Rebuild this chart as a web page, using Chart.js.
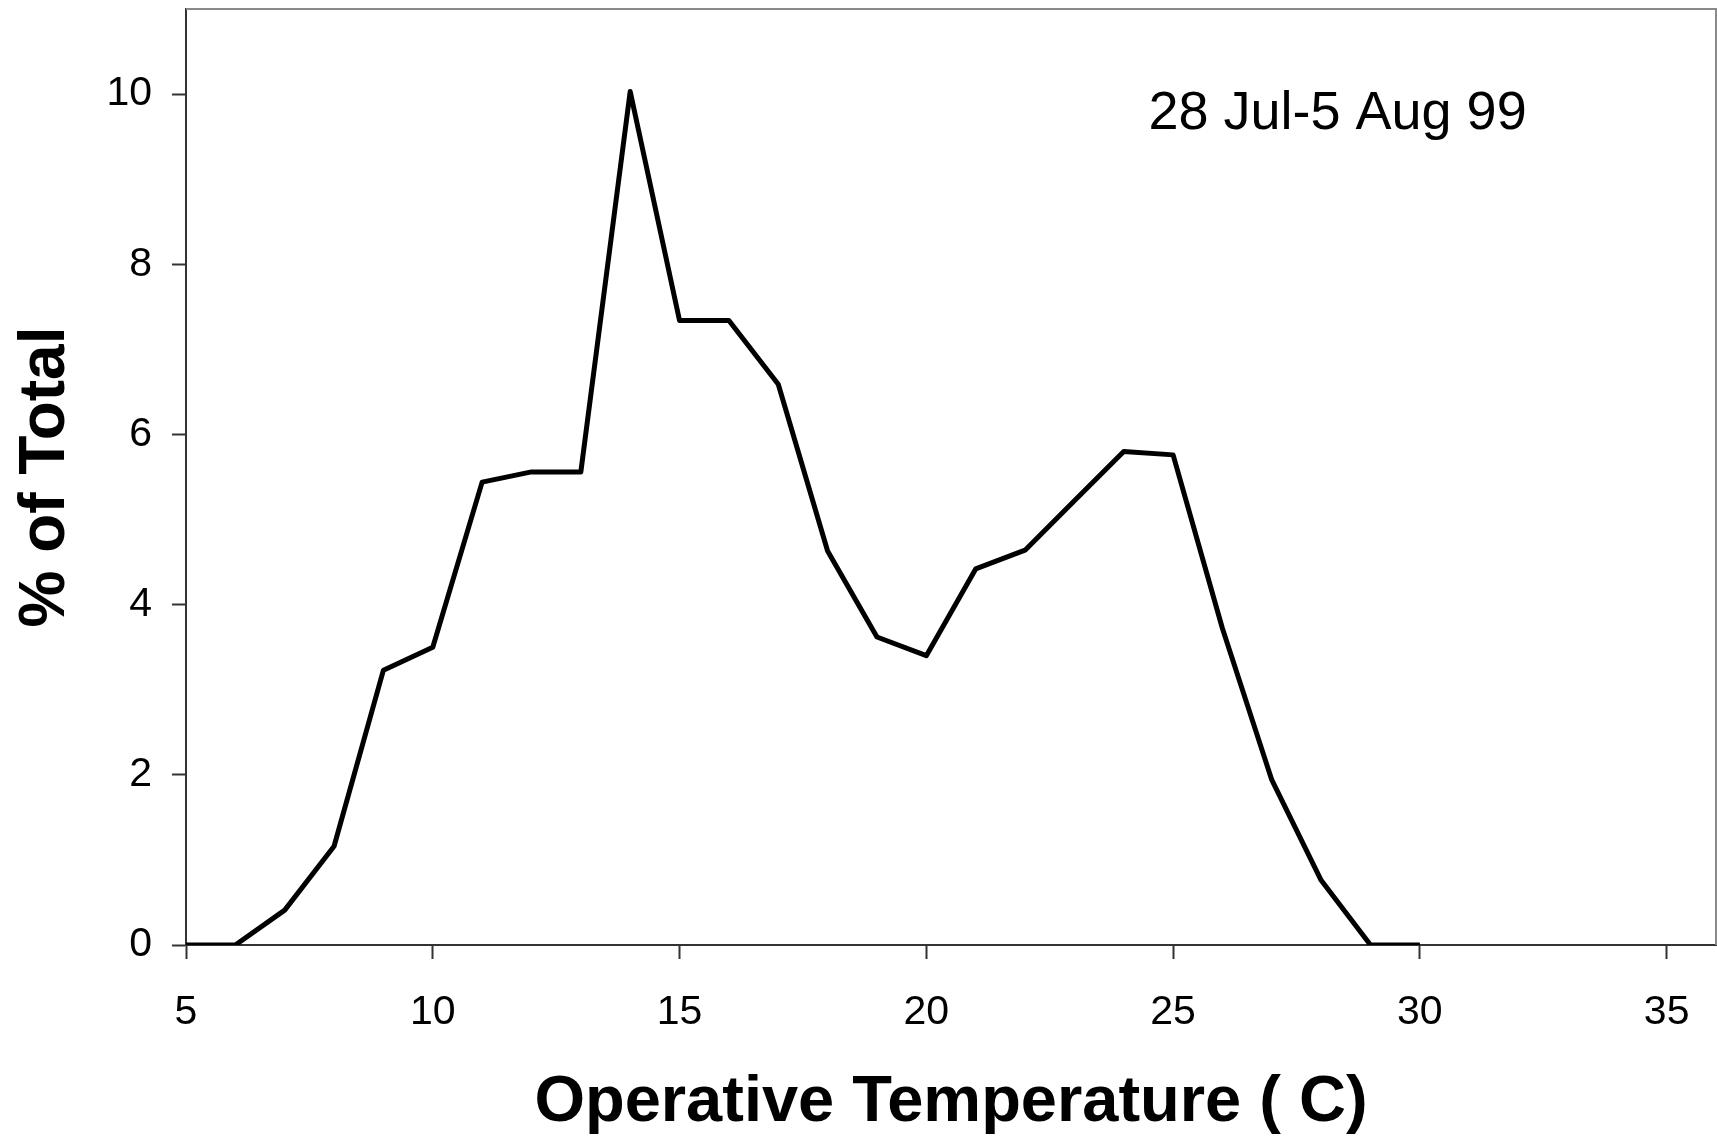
<!DOCTYPE html>
<html>
<head>
<meta charset="utf-8">
<title>Operative temperature distribution</title>
<script src="https://cdn.jsdelivr.net/npm/chart.js@4"></script>
<style>
  html, body { margin: 0; padding: 0; background: #fff; }
  #wrap { width: 1717px; height: 1142px; }
</style>
</head>
<body>
<div id="wrap"><canvas id="chart" width="1717" height="1142"></canvas></div>
<script>
// operative temperature (C) and share of readings in each 1-degree bin
const temps = [5, 6, 7, 8, 9, 10, 11, 12, 13, 14, 15, 16, 17, 18, 19, 20, 21, 22, 23, 24, 25, 26, 27, 28, 29, 30];
const pctOfTotal = [0, 0, 0.41, 1.16, 3.23, 3.50, 5.44, 5.56, 5.56, 10.03, 7.34, 7.34, 6.59, 4.63, 3.62, 3.40, 4.42, 4.64, 5.22, 5.80, 5.76, 3.72, 1.94, 0.76, 0, 0];

const xTicks = [5, 10, 15, 20, 25, 30, 35];
const yTicks = [0, 2, 4, 6, 8, 10];
const periodLabel = '28 Jul-5 Aug 99';

const FONT = "'Liberation Sans', Arial, sans-serif";
const AXIS = '#333';

// frame on the top and right of the plot area, plus the period label
const framePlugin = {
  id: 'frame',
  afterDraw(chart) {
    const { ctx, chartArea: a, scales } = chart;
    ctx.save();
    ctx.strokeStyle = '#8a8a8a';
    ctx.lineWidth = 2;
    ctx.beginPath();
    ctx.moveTo(a.left, a.top);
    ctx.lineTo(a.right, a.top);
    ctx.lineTo(a.right, a.bottom);
    ctx.stroke();

    ctx.fillStyle = '#000';
    ctx.font = '54px ' + FONT;
    ctx.textAlign = 'left';
    ctx.textBaseline = 'alphabetic';
    ctx.fillText(periodLabel, scales.x.getPixelForValue(24.5), scales.y.getPixelForValue(9.59));
    ctx.restore();
  }
};

new Chart(document.getElementById('chart'), {
  type: 'line',
  data: {
    datasets: [{
      data: temps.map((t, i) => ({ x: t, y: pctOfTotal[i] })),
      borderColor: '#000',
      borderWidth: 5,
      borderJoinStyle: 'round',
      pointRadius: 0,
      tension: 0,
      fill: false
    }]
  },
  options: {
    responsive: false,
    animation: false,
    layout: { padding: 0 },
    plugins: { legend: { display: false }, tooltip: { enabled: false } },
    scales: {
      x: {
        type: 'linear',
        min: 5,
        max: 36,
        afterBuildTicks: s => { s.ticks = xTicks.map(v => ({ value: v })); },
        afterFit: s => { s.height = 197; s.paddingLeft = 0; s.paddingRight = 1; },
        grid: { drawOnChartArea: false, drawTicks: true, tickLength: 14, color: AXIS, tickWidth: 2 },
        border: { display: true, color: AXIS, width: 2 },
        ticks: { color: '#000', font: { family: FONT, size: 41 }, padding: 29, maxRotation: 0 },
        title: {
          display: true,
          text: 'Operative Temperature ( C)',
          color: '#000',
          font: { family: FONT, size: 65, weight: 'bold' },
          padding: { top: 0, bottom: 0 }
        }
      },
      y: {
        min: 0,
        max: 11,
        afterBuildTicks: s => { s.ticks = yTicks.map(v => ({ value: v })); },
        afterFit: s => { s.width = 186; s.paddingTop = 9; s.paddingBottom = 0; },
        grid: { drawOnChartArea: false, drawTicks: true, tickLength: 14, color: AXIS, tickWidth: 2 },
        border: { display: true, color: AXIS, width: 2 },
        ticks: { color: '#000', font: { family: FONT, size: 41 }, padding: 20 },
        title: {
          display: true,
          text: '% of Total',
          color: '#000',
          font: { family: FONT, size: 64, weight: 'bold' },
          padding: { top: 8, bottom: 0 }
        }
      }
    }
  },
  plugins: [framePlugin]
});
</script>
</body>
</html>
